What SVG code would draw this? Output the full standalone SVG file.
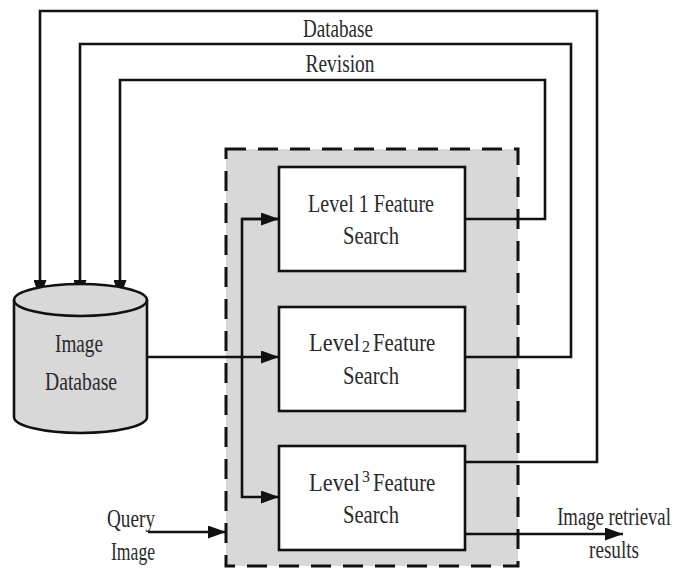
<svg xmlns="http://www.w3.org/2000/svg" width="676" height="569" viewBox="0 0 676 569">
<defs>
<style>
.ln{fill:none;stroke:#111;stroke-width:2.6}
.bx{fill:#fff;stroke:#111;stroke-width:2.6}
.t{font-family:"Liberation Serif","Times New Roman",serif;font-size:26px;fill:#2a2a2a;text-anchor:middle}
.s{font-family:"Liberation Serif","Times New Roman",serif;font-size:26px;fill:#2a2a2a}
.n{font-family:"Liberation Serif","Times New Roman",serif;font-size:16px;fill:#2a2a2a}
</style>
<marker id="ah" viewBox="0 0 18 13" refX="18" refY="6.5" markerWidth="18" markerHeight="13" markerUnits="userSpaceOnUse" orient="auto">
<path d="M0,0 L18,6.5 L0,13 Z" fill="#111"/>
</marker>
</defs>
<rect width="676" height="569" fill="#fff"/>
<g id="group">
<rect x="226" y="149" width="292" height="417" fill="#d8d8d8" stroke="#111" stroke-width="3" stroke-dasharray="20 12"/>
</g>
<g id="connectors">
<path class="ln" d="M465,462 H597 V11 H40 V298" marker-end="url(#ah)"/>
<path class="ln" d="M465,357 H571 V44 H80 V298" marker-end="url(#ah)"/>
<path class="ln" d="M465,219 H545 V80 H120 V298" marker-end="url(#ah)"/>
<path class="ln" d="M147,357 H279" marker-end="url(#ah)"/>
<path class="ln" d="M279,219 H242 V497 H279" marker-end="url(#ah)"/>
<path class="ln" d="M242,219 H279" marker-end="url(#ah)"/>
<path class="ln" d="M148,532 H226" marker-end="url(#ah)"/>
<path class="ln" d="M465,534 H623" marker-end="url(#ah)"/>
</g>
<g id="db">
<path d="M14,300 V417 A66.5,16 0 0 0 147,417 V300 A66.5,16 0 0 0 14,300 Z" fill="#d8d8d8" stroke="#111" stroke-width="2.6"/>
<path d="M14,300 A66.5,16 0 0 0 147,300" fill="none" stroke="#111" stroke-width="2.6"/>
<text class="t" x="79" y="352" textLength="48" lengthAdjust="spacingAndGlyphs">Image</text>
<text class="t" x="81" y="390" textLength="72" lengthAdjust="spacingAndGlyphs">Database</text>
</g>
<g id="level1">
<rect class="bx" x="279" y="167" width="186" height="104"/>
<text class="t" x="371" y="212" textLength="126" lengthAdjust="spacingAndGlyphs">Level 1 Feature</text>
<text class="t" x="371" y="244" textLength="56" lengthAdjust="spacingAndGlyphs">Search</text>
</g>
<g id="level2">
<rect class="bx" x="279" y="307" width="186" height="104"/>
<text class="s" text-anchor="end" transform="translate(360,351) scale(0.86,1)">Level</text>
<text class="n" x="362" y="352">2</text>
<text class="s" transform="translate(373,351) scale(0.8,1)">Feature</text>
<text class="t" x="371" y="384" textLength="56" lengthAdjust="spacingAndGlyphs">Search</text>
</g>
<g id="level3">
<rect class="bx" x="279" y="446" width="186" height="104"/>
<text class="s" text-anchor="end" transform="translate(360,491) scale(0.86,1)">Level</text>
<text class="n" x="362" y="482">3</text>
<text class="s" transform="translate(373,491) scale(0.8,1)">Feature</text>
<text class="t" x="371" y="523" textLength="56" lengthAdjust="spacingAndGlyphs">Search</text>
</g>
<g id="labels">
<text class="t" x="338" y="37" textLength="70" lengthAdjust="spacingAndGlyphs">Database</text>
<text class="t" x="340" y="72" textLength="69" lengthAdjust="spacingAndGlyphs">Revision</text>
<text class="t" x="131" y="527" textLength="48" lengthAdjust="spacingAndGlyphs">Query</text>
<text class="t" x="133" y="560" textLength="44" lengthAdjust="spacingAndGlyphs">Image</text>
<text class="t" transform="translate(614,525) scale(0.72,1)">Image retrieval</text>
<text class="t" x="614" y="558" textLength="50" lengthAdjust="spacingAndGlyphs">results</text>
</g>
</svg>
